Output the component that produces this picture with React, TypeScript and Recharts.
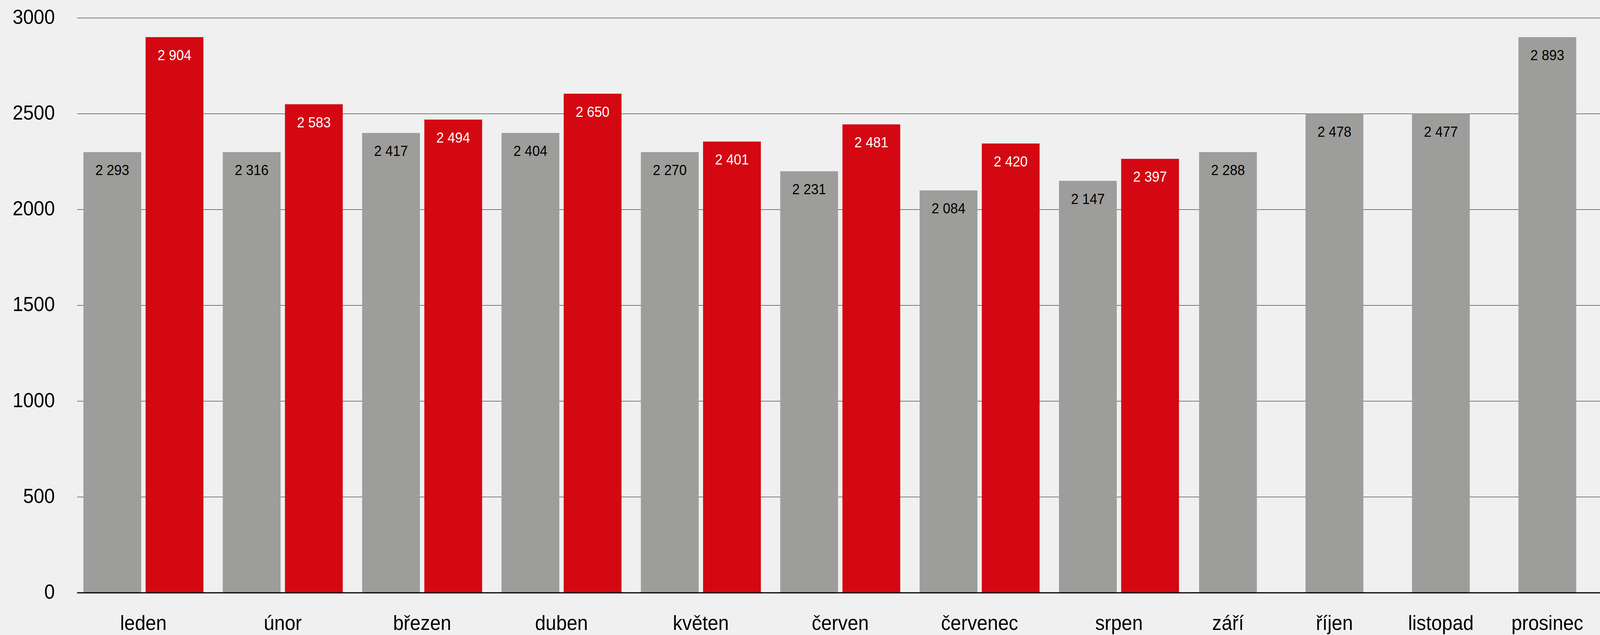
import React from 'react';
import { BarChart, Bar, XAxis, YAxis, CartesianGrid, Cell, LabelList } from 'recharts';

// ---- data ----
const months = ['leden', 'únor', 'březen', 'duben', 'květen', 'červen', 'červenec', 'srpen', 'září', 'říjen', 'listopad', 'prosinec'];
const grayValues = [2300, 2300, 2400, 2400, 2300, 2200, 2100, 2150, 2300, 2500, 2500, 2900];
const grayLabels = ['2 293', '2 316', '2 417', '2 404', '2 270', '2 231', '2 084', '2 147', '2 288', '2 478', '2 477', '2 893'];
const redValues = [2900, 2550, 2470, 2605, 2355, 2445, 2345, 2265];
const redLabels = ['2 904', '2 583', '2 494', '2 650', '2 401', '2 481', '2 420', '2 397'];
const yTicks = [0, 500, 1000, 1500, 2000, 2500, 3000];

// ---- layout ----
const W = 4374;
const H = 1625;
const AXIS_W = 211;
const PLOT_W = W - AXIS_W;
const FIRST_CENTER = 181;
const PAIR_STEP = 381;
const PAIR_HALF = 85;
const SINGLE_GAP = 298;
const SINGLE_STEP = 291;
const GRAY = '#9d9d9b';
const RED = '#d40812';
const FONT = '"Liberation Sans", Arial, sans-serif';

const pairCount = redValues.length;
const monthCenters = months.map((_, i) =>
  i < pairCount
    ? FIRST_CENTER + i * PAIR_STEP
    : FIRST_CENTER + (pairCount - 1) * PAIR_STEP + SINGLE_GAP + (i - pairCount) * SINGLE_STEP
);

type Row = { x: number; value: number; label: string; color: string };
const rows: Row[] = [];
months.forEach((_, i) => {
  const c = monthCenters[i];
  if (i < pairCount) {
    rows.push({ x: c - PAIR_HALF, value: grayValues[i], label: grayLabels[i], color: GRAY });
    rows.push({ x: c + PAIR_HALF, value: redValues[i], label: redLabels[i], color: RED });
  } else {
    rows.push({ x: c, value: grayValues[i], label: grayLabels[i], color: GRAY });
  }
});

const XTick = (props: any) => {
  const { x, y, payload, index } = props;
  const idx = monthCenters.indexOf(payload.value);
  const name = months[idx >= 0 ? idx : index];
  return (
    <text x={x} y={y} dy={95} textAnchor="middle" fontSize={52} fill="#000" fontFamily={FONT}>
      {name}
    </text>
  );
};

const YTick = (props: any) => {
  const { x, y, payload } = props;
  return (
    <text x={x} y={y} dy={15} textAnchor="end" fontSize={52} fill="#000" fontFamily={FONT}>
      {payload.value}
    </text>
  );
};

const renderLabel = (props: any) => {
  const { x, y, width, value, index } = props;
  const row = rows[index];
  const fill = row && row.color === RED ? '#ffffff' : '#000000';
  return (
    <text x={Number(x) + Number(width) / 2} y={Number(y) + 59} textAnchor="middle" fontSize={37} fill={fill} fontFamily={FONT}>
      {value}
    </text>
  );
};

export default function App() {
  const vw = typeof window !== 'undefined' && window.innerWidth ? window.innerWidth : W;
  const vh = typeof window !== 'undefined' && window.innerHeight ? window.innerHeight : H;
  const sx = Math.min(1, vw / W);
  const sy = Math.min(1, vh / H);
  React.useEffect(() => {
    document.documentElement.style.overflow = 'hidden';
    document.body.style.overflow = 'hidden';
    document.body.style.background = '#f0f0f0';
  }, []);
  return (
    <div
      style={{
        position: 'absolute',
        left: 0,
        top: 0,
        width: W,
        height: H,
        background: '#f0f0f0',
        fontFamily: FONT,
        transform: `scale(${sx}, ${sy})`,
        transformOrigin: '0 0',
      }}
    >
      <BarChart width={W} height={H} data={rows} margin={{ top: 46, right: 0, bottom: 0, left: 0 }}>
        <CartesianGrid vertical={false} stroke="#000" strokeWidth={1} />
        <XAxis
          type="number"
          dataKey="x"
          domain={[0, PLOT_W]}
          ticks={monthCenters}
          interval={0}
          tickLine={false}
          tickSize={0}
          tickMargin={0}
          axisLine={{ stroke: '#000', strokeWidth: 3 }}
          height={108}
          tick={<XTick />}
          allowDataOverflow
        />
        <YAxis
          type="number"
          domain={[0, 3000]}
          ticks={yTicks}
          interval={0}
          width={211}
          axisLine={false}
          tickLine={false}
          tickSize={0}
          tickMargin={61}
          tick={<YTick />}
        />
        <Bar dataKey="value" barSize={158} isAnimationActive={false}>
          {rows.map((r, i) => (
            <Cell key={i} fill={r.color} />
          ))}
          <LabelList dataKey="label" content={renderLabel} />
        </Bar>
      </BarChart>
    </div>
  );
}
